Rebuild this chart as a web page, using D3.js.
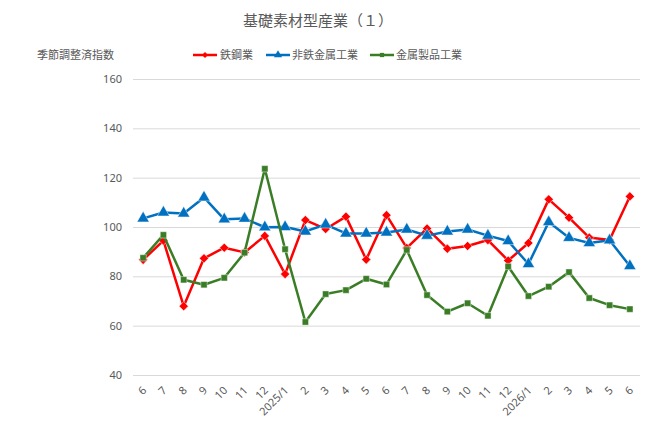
<!DOCTYPE html>
<html>
<head>
<meta charset="utf-8">
<script src="https://cdn.jsdelivr.net/npm/d3@7"></script>
<style>
	body{margin:0;background:#fff;}
	text{font-family:"Noto Sans CJK JP","Noto Sans",sans-serif;fill:#595959;}
</style>
</head>
<body>
<div id="chart"></div>
<script>
// months, from 2024/6 to 2026/6
const months = ['6','7','8','9','10','11','12','2025/1','2','3','4','5','6','7','8','9','10','11','12','2026/1','2','3','4','5','6']
const yTicks = [40,60,80,100,120,140,160]

const steel = [86.7,94.5,67.9,87.3,91.6,89.7,96.4,80.9,102.8,99.2,104.2,86.8,104.8,91.5,99.4,91.2,92.3,94.7,86.4,93.5,111.2,103.8,95.7,94.7,112.4]
const nonFerrous = [103.5,105.9,105.5,112.0,103.1,103.4,99.9,100.0,98.2,101.0,97.4,97.4,97.8,99.0,96.5,98.2,99.0,96.5,94.3,85.0,102.0,95.6,93.5,94.6,84.2]
const metalProducts = [87.5,96.8,78.6,76.6,79.4,89.6,123.6,91.0,61.5,72.8,74.4,79.0,76.7,90.7,72.4,65.7,69.1,64.0,84.0,72.0,75.8,81.7,71.2,68.3,66.7]

const seriesNames = ['鉄鋼業','非鉄金属工業','金属製品工業']
const seriesColors = ['#FF0000','#0070C0','#3A7D26']

const width = 650
const height = 421
const svg = d3.select('#chart').append('svg')
	.attr('width',width)
	.attr('height',height)

//plot area
const plotL = 133, plotR = 640, plotT = 79, plotB = 375

const x = d3.scaleBand()
	.domain(d3.range(months.length))
	.range([plotL,plotR])
const y = d3.scaleLinear()
	.domain([40,160])
	.range([plotB,plotT])

// title
svg.append('text')
	.attr('x',318)
	.attr('y',26)
	.attr('text-anchor','middle')
	.style('font-size','15px')
	.text('基礎素材型産業（１）')

// y axis title
svg.append('text')
	.attr('x',37)
	.attr('y',59)
	.style('font-size','11px')
	.text('季節調整済指数')

// grid + y labels
const yAxis = d3.axisLeft(y)
	.tickValues(yTicks)
	.tickSize(-(plotR-plotL))
	.tickPadding(11)
const gy = svg.append('g')
	.attr('transform',`translate(${plotL},0)`)
	.call(yAxis)
gy.select('.domain').remove()
gy.selectAll('line').attr('stroke','#D9D9D9').attr('stroke-width',1)
gy.selectAll('text')
	.style('font-size','11px')
	.style('font-family','"Noto Sans",sans-serif')
	.attr('fill','#595959')

// x labels, rotated
const xAxis = d3.axisBottom(x)
	.tickFormat(function(i){ return months[i] })
	.tickSize(0)
const gx = svg.append('g')
	.attr('transform',`translate(0,${plotB})`)
	.call(xAxis)
gx.select('.domain').remove()
gx.selectAll('text')
	.style('font-size','11px')
	.style('font-family','"Noto Sans",sans-serif')
	.attr('fill','#595959')
	.attr('text-anchor','end')
	.attr('dy',null)
	.attr('y',0)
	.attr('transform','translate(4,16) rotate(-45)')

const data = [steel,nonFerrous,metalProducts]
const symbols = [d3.symbolSquare,d3.symbolTriangle,d3.symbolSquare]
const symSizes = [42,64,40]
const symRotate = [45,0,0]
const xc = function(i){ return x(i) + x.bandwidth()/2 }

const line = d3.line()
	.x(function(d,i){ return xc(i) })
	.y(function(d){ return y(d) })

data.forEach(function(vals,k){
	const g = svg.append('g')
	g.append('path')
		.datum(vals)
		.attr('d',line)
		.attr('fill','none')
		.attr('stroke',seriesColors[k])
		.attr('stroke-width',2.5)
		.attr('stroke-linejoin','round')
	g.selectAll('.mark')
		.data(vals)
		.enter().append('path')
		.attr('class','mark')
		.attr('d',d3.symbol().type(symbols[k]).size(symSizes[k]))
		.attr('transform',function(d,i){
			return `translate(${xc(i)},${y(d)}) rotate(${symRotate[k]})`
		})
		.attr('fill',seriesColors[k])
		.attr('stroke','#fff')
		.attr('stroke-opacity',0.6)
		.attr('stroke-width',0.75)
})

// legend
const legendX = [193,266,370]
const legendTextX = [220,292,396]
seriesNames.forEach(function(name,k){
	const lg = svg.append('g')
	lg.append('line')
		.attr('x1',legendX[k]).attr('x2',legendX[k]+24)
		.attr('y1',55).attr('y2',55)
		.attr('stroke',seriesColors[k])
		.attr('stroke-width',2.5)
	lg.append('path')
		.attr('d',d3.symbol().type(symbols[k]).size(symSizes[k]*0.45))
		.attr('transform',`translate(${legendX[k]+12},55) rotate(${symRotate[k]})`)
		.attr('fill',seriesColors[k])
	lg.append('text')
		.attr('x',legendTextX[k])
		.attr('y',59)
		.style('font-size','11px')
		.text(name)
})
</script>
</body>
</html>
